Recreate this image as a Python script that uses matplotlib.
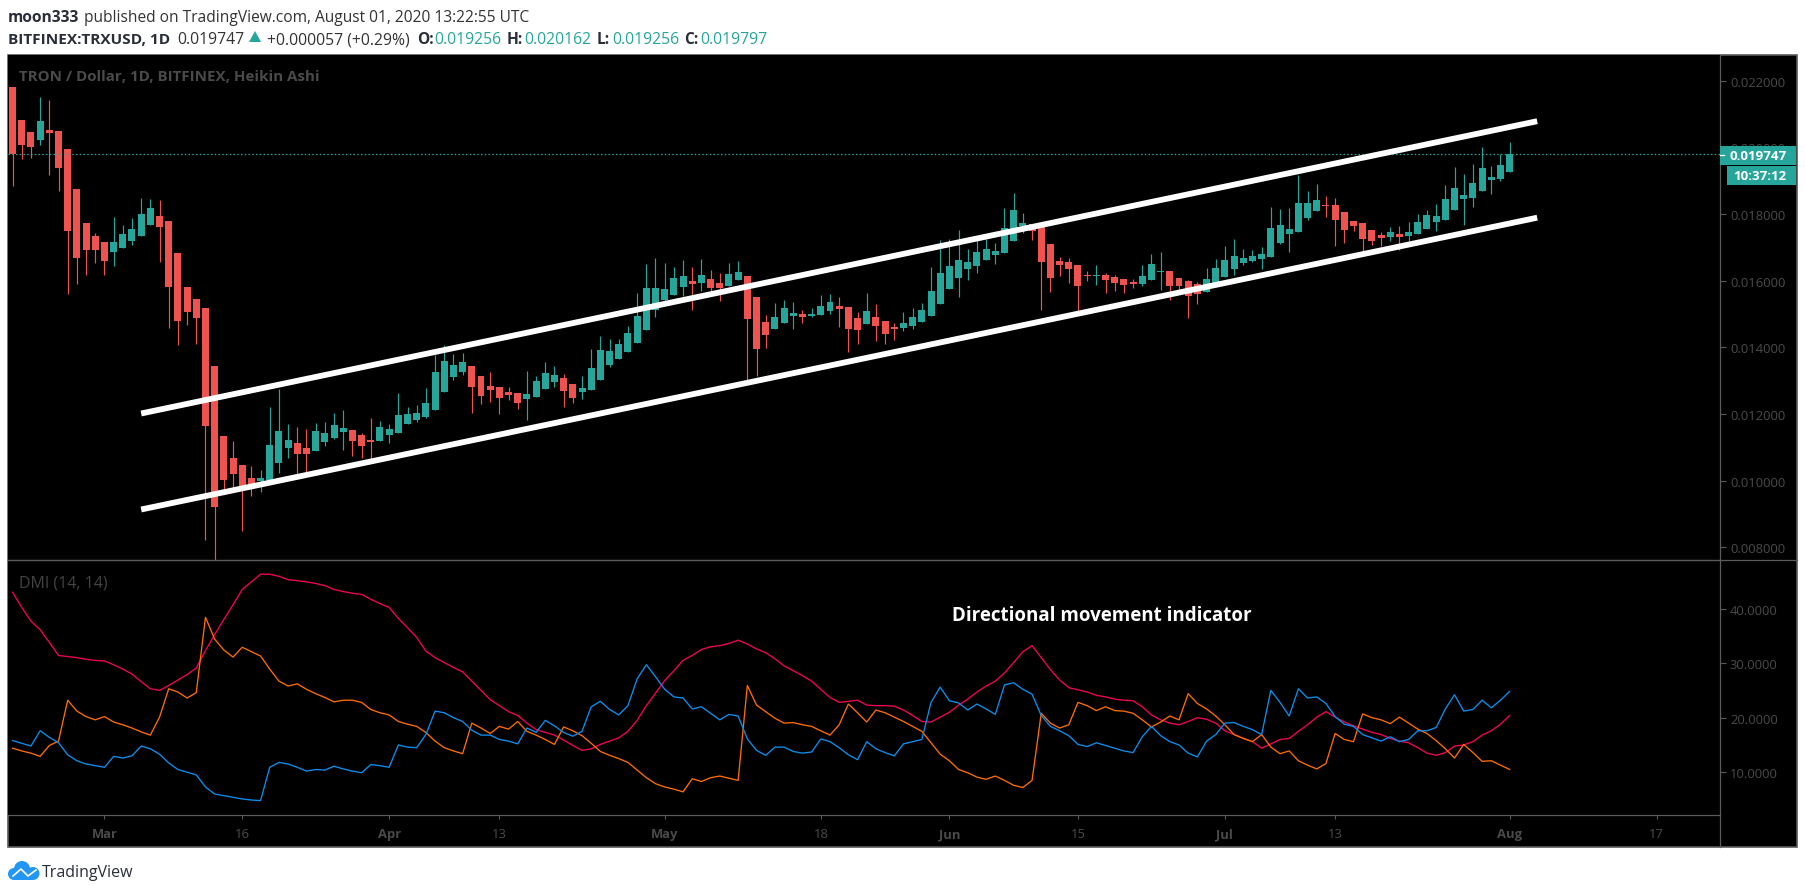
import numpy as np
import pandas as pd
import matplotlib
matplotlib.use("Agg")
import matplotlib.pyplot as plt
from matplotlib.patches import Rectangle, Circle, Polygon

plt.rcParams["font.family"] = ["Open Sans", "DejaVu Sans"]

# Daily Heikin Ashi candles, prices in millionths of a dollar
dates = pd.date_range("2020-02-20", "2020-08-01")

opens = [21810, 20820, 20460, 20220, 20520, 20490, 19950, 18750, 17730, 17340,
         17160, 16860, 16980, 17190, 17340, 17670, 17940, 17790, 16830, 15810,
         15450, 15180, 13440, 11340, 10680, 10470, 10080, 9990, 10020, 10530,
         10980, 11130, 10980, 10890, 11160, 11280, 11460, 11520, 11370, 11220,
         11190, 11370, 11430, 11700, 11820, 11910, 12120, 12660, 13110, 13260,
         13440, 13140, 12840, 12810, 12660, 12630, 12450, 12510, 12750, 12960,
         13080, 12900, 12660, 12720, 13020, 13470, 13650, 13860, 14130, 14520,
         15120, 15420, 15570, 15810, 15990, 15930, 16050, 15930, 15840, 16020,
         16140, 15510, 14760, 14550, 14730, 14940, 15000, 14940, 14970, 15090,
         15240, 15210, 14880, 14700, 14910, 14790, 14610, 14580, 14640, 14760,
         14940, 15300, 15750, 16080, 16350, 16440, 16620, 16770, 16830, 17190,
         17640, 17700, 17610, 17100, 16590, 16560, 16470, 16170, 16140, 16170,
         16110, 16050, 15960, 15900, 16020, 16260, 16290, 16080, 15990, 15900,
         15660, 15900, 16110, 16350, 16530, 16590, 16650, 16710, 17130, 17400,
         17460, 17880, 18090, 18270, 18270, 18060, 17790, 17730, 17520, 17370,
         17310, 17400, 17340, 17400, 17550, 17760, 17820, 18120, 18450, 18480,
         18690, 19020, 19050, 19256]

highs = [21810, 20820, 20460, 21510, 21420, 20490, 19950, 18750, 17730, 17430,
         17160, 17910, 17670, 17880, 18480, 18450, 18420, 17790, 16830, 15810,
         15450, 15180, 13440, 11340, 11190, 10470, 10440, 10320, 12210, 12750,
         11700, 11610, 11550, 11730, 11760, 12030, 12120, 11520, 11430, 11880,
         11790, 11700, 12630, 12210, 12270, 12780, 13770, 14070, 13800, 13830,
         13440, 13140, 13260, 12810, 12810, 12630, 13290, 13140, 13560, 13440,
         13200, 12900, 13140, 13950, 14340, 14250, 14250, 14640, 15630, 16500,
         16680, 16530, 16410, 16620, 16410, 16650, 16320, 16230, 16530, 16590,
         16140, 15510, 14970, 15330, 15420, 15360, 15120, 15180, 15570, 15600,
         15510, 15210, 15060, 15630, 15300, 14790, 14730, 15060, 15180, 15330,
         16410, 17220, 17250, 17520, 16950, 17310, 17250, 17130, 18180, 18630,
         18030, 17700, 17760, 17100, 16710, 16680, 16470, 16290, 16470, 16230,
         16170, 16050, 16050, 16470, 16800, 16860, 16290, 16080, 16020, 15960,
         16380, 16650, 17040, 17250, 16950, 16920, 17010, 18210, 18150, 18180,
         19170, 18690, 18900, 18540, 18480, 18060, 17790, 17730, 17520, 17460,
         17610, 17640, 17760, 18000, 18120, 18300, 18870, 19410, 19200, 19500,
         20010, 19440, 19800, 20162]

lows = [18840, 19650, 19680, 20070, 19170, 18690, 15600, 15900, 16170, 16530,
        16170, 16440, 16980, 17070, 17340, 17670, 16560, 14580, 14070, 14670,
        14100, 8220, 7620, 9660, 9750, 8490, 9540, 9660, 10020, 10230,
        10680, 10170, 10200, 10890, 11040, 11250, 10920, 10740, 10680, 10650,
        11190, 11130, 11430, 11700, 11760, 11880, 12120, 12660, 13020, 13170,
        12030, 12300, 12360, 12000, 12420, 12150, 11820, 12510, 12750, 12810,
        12210, 12330, 12450, 12720, 13020, 13410, 13650, 13860, 14130, 14520,
        14910, 15360, 15570, 15540, 15120, 15690, 15660, 15390, 15840, 16020,
        12990, 13140, 13980, 14550, 14730, 14550, 14730, 14910, 14970, 15000,
        14610, 13860, 14100, 14700, 14190, 14100, 14220, 14490, 14550, 14760,
        14940, 15300, 15750, 15510, 16020, 16230, 16620, 16500, 16830, 17190,
        17430, 17220, 15120, 15660, 16140, 15930, 15060, 15990, 15870, 15630,
        15690, 15630, 15780, 15840, 16020, 15720, 15420, 15600, 14880, 15300,
        15660, 15900, 16110, 16170, 16470, 16560, 16350, 16710, 17100, 16860,
        17460, 17820, 18090, 17910, 17040, 17130, 17490, 16860, 17070, 17040,
        17190, 16920, 17190, 17400, 17550, 17490, 17820, 18120, 17670, 18210,
        18690, 18600, 18990, 19256]

closes = [19800, 20070, 20010, 20790, 20430, 19380, 17490, 16680, 16920, 16920,
          16590, 17160, 17400, 17550, 18000, 18180, 17610, 15810, 14790, 15060,
          14880, 11640, 9210, 10020, 10200, 9810, 9900, 10080, 11070, 11490,
          11220, 10800, 10800, 11490, 11430, 11670, 11580, 11190, 11040, 11160,
          11610, 11550, 11970, 12000, 12030, 12330, 13260, 13590, 13470, 13560,
          12810, 12540, 12720, 12480, 12570, 12330, 12600, 12990, 13230, 13170,
          12690, 12480, 12780, 13380, 13920, 13890, 14100, 14430, 14940, 15780,
          15780, 15750, 16080, 16140, 15900, 16170, 15780, 15780, 16200, 16260,
          14850, 13950, 14370, 14910, 15180, 15030, 14910, 15000, 15240, 15360,
          15150, 14550, 14520, 15090, 14640, 14400, 14550, 14730, 14910, 15120,
          15690, 16230, 16440, 16620, 16560, 16860, 16950, 16890, 17580, 18120,
          17730, 17490, 16560, 16080, 16470, 16350, 15840, 16140, 16170, 16020,
          15930, 15870, 15900, 16140, 16500, 16290, 15840, 15840, 15540, 15600,
          16050, 16380, 16620, 16740, 16680, 16740, 16800, 17580, 17670, 17550,
          18330, 18330, 18420, 18240, 17820, 17520, 17640, 17250, 17190, 17280,
          17460, 17310, 17460, 17760, 17970, 17940, 18450, 18780, 18570, 18930,
          19380, 19110, 19470, 19797]

# DMI (14, 14)
adx = [43.0, 40.2, 37.7, 36.1, 33.8, 31.4, 31.2, 31.0, 30.7, 30.5,
       30.4, 29.7, 28.9, 28.0, 26.6, 25.3, 25.0, 25.9, 26.9, 27.9,
       29.1, 32.3, 35.2, 38.0, 40.7, 43.5, 44.9, 46.3, 46.3, 45.9,
       45.3, 45.1, 44.9, 44.6, 44.2, 43.5, 43.1, 42.8, 42.6, 41.7,
       40.9, 40.2, 38.2, 36.5, 34.7, 32.2, 31.0, 30.1, 29.2, 28.4,
       26.7, 25.0, 23.3, 22.2, 21.1, 20.4, 19.0, 17.8, 17.3, 16.8,
       15.9, 14.9, 14.0, 14.3,
       15.1, 15.7, 16.3, 17.5, 19.5, 22.2, 24.5, 26.8, 28.6, 30.5,
       31.4, 32.5, 33.0, 33.2, 33.6, 34.2, 33.5, 32.6, 31.9, 30.8,
       29.5, 28.6, 27.7, 26.7, 25.2, 23.7, 22.8, 23.0, 23.2, 22.3,
       22.2, 22.2, 22.1, 21.4, 20.4, 19.3, 19.2, 20.1, 21.0, 22.3,
       23.4, 24.7, 25.8, 26.7, 28.2, 30.1, 32.1, 33.2, 31.0, 28.8,
       26.9, 25.5, 25.1, 24.7, 24.1, 23.8, 23.4, 23.2, 23.1, 22.0,
       20.5, 19.6, 19.0, 18.7, 19.3, 20.0,
       19.7, 19.0, 17.6, 16.9, 16.2, 15.6, 14.4, 15.2, 16.0, 16.2,
       17.5, 18.7, 20.1, 21.1, 20.1, 19.2, 18.5, 17.9, 17.3, 16.9,
       16.2, 15.7, 15.4, 14.5, 13.5, 13.1, 13.6, 14.8, 15.0, 15.6,
       16.8, 17.6, 18.8, 20.4]

plus_di = [15.8, 15.3, 14.8, 17.6, 16.4, 15.4, 13.2, 12.1, 11.5, 11.2,
           10.9, 12.9, 12.6, 13.0, 14.8, 14.3, 13.3, 11.7, 10.5, 10.0,
           9.5, 7.3, 6.0, 5.7, 5.4, 5.1, 4.9, 4.8, 10.9, 11.8,
           11.5, 10.9, 10.2, 10.5, 10.4, 11.1, 10.6, 10.2, 9.9, 11.4,
           11.2, 10.9, 15.0, 14.6, 14.5, 16.9, 21.2, 20.9, 20.0, 19.3,
           17.7, 16.8, 16.8, 16.0, 15.7, 15.2, 18.1, 17.3, 19.5, 18.5,
           17.3, 16.6, 17.5, 22.0,
           23.0, 21.5, 20.5, 22.2, 27.1, 29.7, 27.5, 25.2, 23.8, 23.6,
           21.6, 22.0, 20.8, 19.6, 20.6, 20.3, 16.1, 14.0, 13.1, 14.6,
           14.6, 13.8, 13.5, 13.7, 16.1, 15.6, 14.5, 13.2, 12.3, 15.6,
           14.3, 13.6, 13.0, 15.2, 15.6, 16.0, 22.8, 25.6, 23.1, 22.7,
           21.4, 22.5, 21.6, 20.6, 26.0, 26.4, 25.2, 24.3, 20.4, 18.4,
           17.6, 16.7, 15.1, 14.7, 15.4, 14.9, 14.4, 13.9, 13.6, 16.5,
           18.4, 16.7, 15.6, 15.0, 13.5, 12.8,
           15.7, 16.9, 19.0, 19.1, 18.4, 17.8, 16.9, 25.0, 22.8, 20.3,
           25.3, 23.6, 23.8, 22.6, 20.2, 18.8, 18.4, 16.9, 16.3, 15.7,
           16.5, 15.6, 16.0, 17.6, 17.6, 18.2, 21.6, 24.2, 21.2, 21.5,
           23.2, 21.8, 23.2, 24.8]

minus_di = [14.4, 13.9, 13.5, 12.9, 14.9, 15.7, 23.2, 21.2, 20.2, 19.6,
            20.2, 19.2, 18.7, 18.1, 17.4, 16.8, 20.1, 25.3, 24.7, 23.6,
            24.6, 38.4, 34.4, 32.4, 31.1, 32.9, 32.1, 31.3, 28.9, 26.7,
            25.8, 26.2, 25.2, 24.4, 23.7, 22.9, 23.2, 23.2, 22.8, 21.5,
            20.9, 20.5, 19.3, 18.8, 18.4, 17.3, 15.7, 14.5, 13.9, 13.4,
            19.0, 18.1, 17.1, 18.4, 17.9, 19.3, 17.5, 16.8, 16.0, 15.1,
            18.3, 17.6, 16.7, 15.3,
            13.8, 13.1, 12.5, 11.8, 10.4, 9.0, 7.9, 7.3, 6.9, 6.4,
            8.8, 8.3, 9.0, 9.3, 8.9, 8.5, 25.9, 22.3, 21.1, 19.9,
            19.0, 19.1, 18.7, 18.4, 17.6, 16.8, 18.7, 22.5, 20.9, 19.2,
            21.4, 20.9, 20.1, 19.3, 18.4, 17.5, 15.4, 13.3, 12.1, 10.5,
            9.9, 9.1, 8.7, 9.3, 8.5, 7.6, 7.2, 8.5, 20.8, 19.0,
            18.1, 18.7, 22.8, 22.2, 21.3, 22.0, 21.3, 21.2, 20.8, 19.6,
            18.3, 19.2, 20.3, 19.6, 24.4, 22.6,
            21.6, 20.3, 18.7, 16.9, 16.2, 15.6, 16.9, 14.6, 13.4, 13.9,
            12.1, 11.3, 10.6, 11.6, 17.1, 16.0, 15.6, 20.7, 20.0, 19.6,
            18.9, 20.1, 19.0, 17.9, 17.1, 15.8, 14.3, 12.6, 15.1, 13.6,
            12.0, 12.1, 11.3, 10.5]

# Hand drawn channel, (date, price) of both ends
channel_dates = ["2020-03-05", "2020-08-04"]
upper_channel = [12015, 20784]
lower_channel = [9135, 17889]

price_ticks = [0.008, 0.010, 0.012, 0.014, 0.016, 0.018, 0.020, 0.022]
dmi_ticks = [10, 20, 30, 40]
time_ticks = ["2020-03-01", "2020-03-16", "2020-04-01", "2020-04-13", "2020-05-01", "2020-05-18",
              "2020-06-01", "2020-06-15", "2020-07-01", "2020-07-13", "2020-08-01", "2020-08-17"]
time_labels = ["Mar", "16", "Apr", "13", "May", "18", "Jun", "15", "Jul", "13", "Aug", "17"]

UP = "#26a69a"
DOWN = "#ef5350"
GRID = "#5a5a5a"
FAINT = "#4a4a4a"
DARK = "#2a2e39"
W, H = 1805, 895


def px_axes(left, top, right, bottom, **kw):
    return fig.add_axes([left / W, 1 - bottom / H, (right - left) / W, (bottom - top) / H], **kw)


fig = plt.figure(figsize=(W / 100, H / 100), dpi=100, facecolor="white")

# frame behind the panes
back = px_axes(0, 0, W, H, zorder=0)
back.set_xlim(0, W)
back.set_ylim(H, 0)
back.axis("off")
back.add_patch(Rectangle((8, 55.5), 1788.5, 792.5, facecolor="black", edgecolor=GRID, lw=1.2))

x_left = pd.Timestamp("2020-02-19 12:00")
x_right = pd.Timestamp("2020-08-23 20:24")

# =====================
# Price pane
# =====================
ax = px_axes(8, 55.5, 1719.5, 561, zorder=2, facecolor="black")

o = np.array(opens) / 1e6
h = np.array(highs) / 1e6
l = np.array(lows) / 1e6
c = np.array(closes) / 1e6
colors = [UP if b >= a else DOWN for a, b in zip(o, c)]

ax.vlines(dates, l, h, colors=colors, lw=0.85, zorder=2)
ax.bar(dates, np.abs(c - o), bottom=np.minimum(o, c), width=0.76, color=colors, linewidth=0, zorder=3)
ax.axhline(c[-1], color=UP, lw=0.9, dashes=(1.2, 1.8), zorder=4)
for prices in (upper_channel, lower_channel):
    ax.plot(pd.to_datetime(channel_dates), np.array(prices) / 1e6, color="white", lw=4.2,
            solid_capstyle="butt", zorder=5)

ax.set_xlim(x_left, x_right)
ax.set_ylim(0.00762, 0.022785)
ax.yaxis.tick_right()
ax.set_yticks(price_ticks)
ax.set_yticklabels(["%.6f" % t for t in price_ticks])
ax.tick_params(axis="y", colors=GRID, labelcolor=FAINT, labelsize=9.4, length=4.3, width=0.8, pad=3.2)
ax.set_xticks([])
for side in ["top", "left", "bottom"]:
    ax.spines[side].set_visible(False)
ax.spines["right"].set_color(GRID)
ax.spines["right"].set_linewidth(0.9)

# =====================
# DMI pane
# =====================
ax2 = px_axes(8, 561, 1719.5, 815.5, zorder=2, facecolor="black")
ax2.plot(dates, adx, color="#f50057", lw=0.95)
ax2.plot(dates, minus_di, color="#ff6d00", lw=0.95)
ax2.plot(dates, plus_di, color="#0a8fee", lw=0.95)
ax2.set_xlim(x_left, x_right)
ax2.set_ylim(2.25, 48.9)
ax2.yaxis.tick_right()
ax2.set_yticks(dmi_ticks)
ax2.set_yticklabels(["%.4f" % t for t in dmi_ticks])
ax2.tick_params(axis="y", colors=GRID, labelcolor=FAINT, labelsize=9.4, length=4.3, width=0.8, pad=3.2)
ax2.set_xticks(pd.to_datetime(time_ticks))
ax2.set_xticklabels(time_labels)
ax2.tick_params(axis="x", colors=GRID, labelcolor=FAINT, labelsize=9.4, length=3, width=0.8, pad=6)
for lab in ax2.get_xticklabels():
    if lab.get_text().isalpha():
        lab.set_fontweight("bold")
ax2.spines["left"].set_visible(False)
for side in ["top", "bottom", "right"]:
    ax2.spines[side].set_color(GRID)
    ax2.spines[side].set_linewidth(0.9)

# =====================
# Labels, header, logo
# =====================
top = px_axes(0, 0, W, H, zorder=5)
top.set_xlim(0, W)
top.set_ylim(H, 0)
top.axis("off")
top.patch.set_alpha(0)

top.plot([1719.5, 1719.5], [815.5, 848], color=GRID, lw=0.9)
top.plot([8, 1796.5], [561, 561], color=GRID, lw=0.9)

top.add_patch(Rectangle((1719.5, 147), 76.5, 18.7, facecolor=UP, edgecolor="none"))
top.add_patch(Rectangle((1727, 167), 69, 18.7, facecolor=UP, edgecolor="none"))
top.plot([1719.5, 1724], [156, 156], color="white", lw=0.9)
top.text(1730, 156, "0.019747", color="white", fontsize=9.6, fontweight="bold", va="center")
top.text(1733, 176, "10:37:12", color="white", fontsize=9.6, fontweight="bold", va="center")

top.text(19, 77, "TRON / Dollar, 1D, BITFINEX, Heikin Ashi", color=FAINT, fontsize=10.9,
         fontweight="bold", va="center")
top.text(19, 584, "DMI (14, 14)", color="#434343", fontsize=11.5, va="center")
top.text(952, 616, "Directional movement indicator", color="white", fontsize=13.5, fontweight="bold", va="center")

# header, two rows
top.text(8, 17.5, "moon333", color=DARK, fontsize=11.2, fontweight="bold", va="center")
top.text(84, 17.5, "published on TradingView.com, August 01, 2020 13:22:55 UTC", color="#333333",
         fontsize=11.2, va="center")
top.text(8, 40, "BITFINEX:TRXUSD, 1D", color=DARK, fontsize=11.05, fontweight="bold", va="center")
top.text(177, 40, "0.019747", color="#333333", fontsize=11.3, va="center")
top.add_patch(Polygon([[249, 43], [261, 43], [255, 32]], facecolor=UP, edgecolor="none"))
top.text(267, 40, "+0.000057 (+0.29%)", color="#333333", fontsize=11.3, va="center")
for xk, key, xv, val in [(417, "O:", 434, "0.019256"), (507, "H:", 524, "0.020162"),
                         (597, "L:", 612, "0.019256"), (684, "C:", 700, "0.019797")]:
    top.text(xk, 40, key, color=DARK, fontsize=11.2, fontweight="bold", va="center")
    top.text(xv, 40, val, color=UP, fontsize=11.3, va="center")

# TradingView logo
for cx, cy, r in [(14, 875, 6), (22, 870, 8), (33, 874.5, 6.5)]:
    top.add_patch(Circle((cx, cy), r, facecolor="#2196f3", edgecolor="none"))
top.add_patch(Rectangle((14, 873), 19, 8, facecolor="#2196f3", edgecolor="none"))
top.plot([13, 21, 28, 36], [877, 870, 877, 871], color="white", lw=1.2)
top.text(42, 873, "TradingView", color=DARK, fontsize=11.5, va="center")

fig.savefig("out.png", dpi=100, facecolor="white")
